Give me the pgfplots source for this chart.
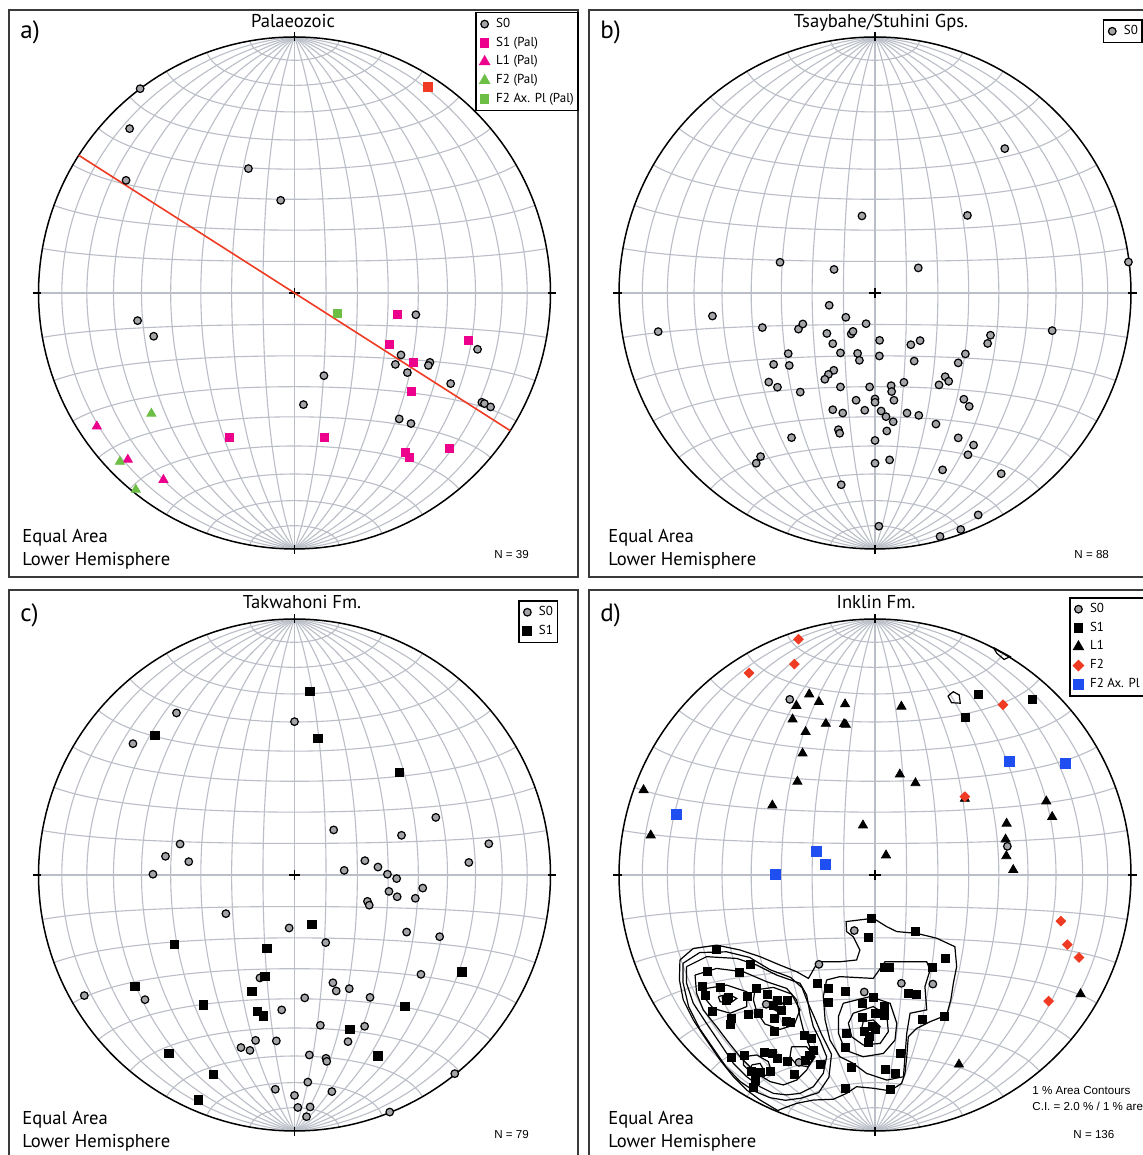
\documentclass[border=0pt]{standalone}
\usepackage{fontspec}
\setmainfont{PT Sans}
\newfontfamily\arialf{Liberation Sans}
\usepackage{pgfplots}
\pgfplotsset{compat=1.18}

\definecolor{gridc}{HTML}{BABEC7}
\definecolor{sgray}{HTML}{A3A5A9}
\definecolor{mag}{HTML}{EC008C}
\definecolor{grn}{HTML}{6CBE45}
\definecolor{red2}{HTML}{EF3B23}
\definecolor{blu}{HTML}{1F4FF0}
\definecolor{framec}{HTML}{3A3A3A}

\newcommand{\ttl}{\fontsize{9.3}{11}\selectfont}
\newcommand{\lab}{\fontsize{12.5}{14}\selectfont}
\newcommand{\nf}{\arialf\fontsize{5.8}{7}\selectfont}

\pgfplotsset{
  stereo/.style={
    width=256pt, height=256pt, scale only axis,
    xmin=-1, xmax=1, ymin=-1, ymax=1,
    axis lines=none, clip=false, anchor=center,
    legend cell align=left,
    legend style={draw=black, line width=0.8pt, fill=white, anchor=north west,
      inner sep=1pt, row sep=0pt, column sep=0.5pt,
      nodes={inner xsep=1.2pt, inner ysep=1.5pt, text height=4.8pt, text depth=1.6pt,
        font=\fontsize{6.5}{7}\selectfont, line width=0.4pt}},
  },
  mk/.style={only marks,
    legend image code/.code={\path[draw=none,fill=none] (0pt,-2pt) rectangle (7.4pt,2pt); \draw[##1] plot coordinates {(3.3pt,0pt)};}},
  s0/.style={mk, mark=*, mark size=1.9pt, mark options={fill=sgray, draw=black, line width=0.6pt}},
  cont/.style={black, line width=0.6pt, forget plot},
}

\newcommand{\stereogrid}{%
  \pgfplotsinvokeforeach{10,20,...,170}{%
    \addplot[gridc, line width=0.55pt, domain=0:180, samples=73, forget plot]
      ({sin(x)*cos(##1)/sqrt(1+sin(x)*sin(##1))},{cos(x)/sqrt(1+sin(x)*sin(##1))});
    \addplot[gridc, line width=0.55pt, domain=0:180, samples=73, forget plot]
      ({sin(##1)*cos(x)/sqrt(1+sin(##1)*sin(x))},{cos(##1)/sqrt(1+sin(##1)*sin(x))});
  }%
  \addplot[black, line width=0.75pt, domain=0:360, samples=181, forget plot] ({cos(x)},{sin(x)});
  \draw[black, line width=0.65pt] (axis cs:-1.022,0) -- (axis cs:-0.99,0);
  \draw[black, line width=0.65pt] (axis cs:1.022,0) -- (axis cs:0.99,0);
  \draw[black, line width=0.65pt] (axis cs:0,1.02) -- (axis cs:0,0.985);
  \draw[black, line width=0.65pt] (axis cs:0,-1.02) -- (axis cs:0,-0.985);
  \draw[black, line width=0.65pt] (axis cs:-0.022,0) -- (axis cs:0.022,0);
  \draw[black, line width=0.65pt] (axis cs:0,-0.018) -- (axis cs:0,0.018);
}

\begin{document}
\begin{tikzpicture}[x=0.5pt,y=0.5pt]
\useasboundingbox (0,0) rectangle (1143,1155);
\clip (0,0) rectangle (1143,1155);
\fill[white] (0,0) rectangle (1143,1155);

% frames
\draw[framec, line width=1pt] (9,1145) rectangle (578,578);
\draw[framec, line width=1pt] (589,1145) rectangle (1160,578);
\draw[framec, line width=1pt] (9,565) rectangle (578,-10);
\draw[framec, line width=1pt] (589,565) rectangle (1160,-10);

% ---------------- panel a ----------------
\begin{axis}[stereo, at={(147.25pt,431pt)}, legend style={at={(0.853,1.049)}}]
\stereogrid
\addplot[red2, line width=0.8pt, forget plot] coordinates {(-0.843,0.538) (0.843,-0.538)};
\addplot[s0] coordinates {(-0.603,0.798) (-0.644,0.642) (-0.658,0.440) (-0.180,0.486) (-0.054,0.362)
 (-0.613,-0.108) (-0.550,-0.169) (0.474,-0.085) (0.715,-0.220) (0.416,-0.242) (0.394,-0.279)
 (0.529,-0.271) (0.523,-0.283) (0.441,-0.311) (0.115,-0.323) (0.610,-0.354) (0.035,-0.436)
 (0.732,-0.427) (0.742,-0.432) (0.766,-0.445) (0.409,-0.492) (0.455,-0.510)};
\addlegendentry{S0}
\addplot[mk, mark=square*, mark size=2pt, mag] coordinates {(0.401,-0.085) (0.372,-0.199)
 (0.464,-0.271) (0.679,-0.184) (0.455,-0.385) (-0.255,-0.566) (0.118,-0.563) (0.433,-0.622)
 (0.447,-0.641) (0.606,-0.609)};
\addlegendentry{S1 (Pal)}
\addplot[mk, mark=triangle*, mark size=2.6pt, mag] coordinates {(-0.772,-0.521) (-0.651,-0.651) (-0.512,-0.730)};
\addlegendentry{L1 (Pal)}
\addplot[mk, mark=triangle*, mark size=2.6pt, grn] coordinates {(-0.559,-0.471) (-0.682,-0.659) (-0.620,-0.768)};
\addlegendentry{F2 (Pal)}
\addplot[mk, mark=square*, mark size=2pt, grn] coordinates {(0.166,-0.078)};
\addlegendentry{F2 Ax. Pl (Pal)}
\addplot[only marks, mark=square*, mark size=2.2pt, red2, forget plot] coordinates {(0.521,0.806)};
\end{axis}

% ---------------- panel b ----------------
\begin{axis}[stereo, at={(437.5pt,431pt)}, legend style={at={(0.945,1.035)}}]
\stereogrid
\addplot[s0] coordinates {(0.507,0.564) (-0.051,0.301) (0.361,0.303) (-0.371,0.120) (-0.160,0.092)
 (0.169,0.098) (0.990,0.121)
 (-0.847,-0.151) (-0.635,-0.090) (-0.440,-0.135) (-0.299,-0.141) (-0.282,-0.121) (-0.179,-0.048)
 (-0.114,-0.095) (-0.035,-0.120) (-0.188,-0.158) (-0.093,-0.160) (-0.086,-0.150) (-0.165,-0.198)
 (-0.135,-0.234) (-0.068,-0.236) (-0.061,-0.263) (0.018,-0.185) (0.017,-0.246) (0.140,-0.202)
 (0.176,-0.186) (0.153,-0.266) (0.451,-0.165) (0.440,-0.197) (0.353,-0.238) (0.325,-0.273)
 (0.692,-0.147) (-0.339,-0.237) (-0.396,-0.279) (-0.335,-0.283) (-0.415,-0.348) (-0.381,-0.368)
 (-0.292,-0.387) (-0.161,-0.302) (-0.182,-0.318) (-0.196,-0.337) (-0.135,-0.367) (-0.021,-0.367)
 (0.063,-0.362) (0.065,-0.385) (0.113,-0.349) (0.250,-0.359) (0.274,-0.327) (0.288,-0.345)
 (-0.074,-0.419) (0.0,-0.414) (0.0,-0.427) (0.074,-0.419) (0.347,-0.415) (0.368,-0.443)
 (-0.165,-0.456) (-0.126,-0.469) (-0.040,-0.458) (0.024,-0.461) (0.043,-0.483) (0.071,-0.503)
 (0.125,-0.469) (0.171,-0.478) (0.238,-0.512) (-0.143,-0.534) (-0.138,-0.548) (0.046,-0.539)
 (0.0,-0.576) (-0.326,-0.565) (0.325,-0.566) (0.385,-0.594) (0.363,-0.632) (-0.447,-0.639)
 (-0.464,-0.665) (0.0,-0.665) (0.057,-0.652) (0.264,-0.691) (0.493,-0.706) (-0.132,-0.749)
 (0.015,-0.911) (0.403,-0.867) (0.335,-0.924) (0.254,-0.951)};
\addlegendentry{S0}
\end{axis}

% ---------------- panel c ----------------
\begin{axis}[stereo, at={(147.25pt,140pt)}, legend style={at={(0.9365,1.037)}}]
\stereogrid
\addplot[s0] coordinates {(-0.461,0.633) (-0.631,0.513) (0.0,0.599) (0.552,0.225) (0.153,0.176)
 (0.418,0.155) (0.759,0.122) (-0.447,0.121) (-0.504,0.073) (-0.413,0.052) (-0.553,0.003)
 (0.275,0.056) (0.326,0.031) (0.194,0.018) (0.363,0.003) (0.399,-0.014) (0.681,0.049)
 (0.369,-0.064) (0.401,-0.085) (0.501,-0.051) (0.472,-0.091) (0.285,-0.103) (0.292,-0.118)
 (-0.268,-0.151) (-0.021,-0.207) (0.122,-0.264) (0.438,-0.223) (0.567,-0.241) (0.494,-0.388)
 (-0.135,-0.402) (0.150,-0.421) (0.163,-0.453) (0.214,-0.444) (0.295,-0.478) (0.040,-0.480)
 (-0.821,-0.471) (-0.584,-0.487) (-0.050,-0.527) (0.101,-0.587) (0.274,-0.591) (0.209,-0.651)
 (-0.152,-0.646) (-0.071,-0.648) (-0.209,-0.674) (-0.174,-0.685) (0.058,-0.703) (0.123,-0.716)
 (0.126,-0.728) (0.052,-0.809) (-0.075,-0.837) (0.0,-0.861) (0.146,-0.846) (0.013,-0.908)
 (0.061,-0.906) (0.047,-0.944) (0.626,-0.776) (0.372,-0.926)};
\addlegendentry{S0}
\addplot[mk, mark=square*, mark size=2.1pt, black] coordinates {(0.060,0.717) (-0.546,0.546)
 (0.091,0.534) (0.410,0.401) (0.068,-0.194) (-0.470,-0.270) (-0.108,-0.286) (-0.116,-0.397)
 (-0.624,-0.435) (-0.167,-0.454) (-0.356,-0.508) (-0.146,-0.533) (-0.121,-0.551) (0.654,-0.379)
 (0.431,-0.514) (0.216,-0.603) (-0.491,-0.697) (0.326,-0.706) (-0.316,-0.779) (-0.376,-0.879)};
\addlegendentry{S1}
\end{axis}

% ---------------- panel d ----------------
\begin{axis}[stereo, at={(437.5pt,140pt)}, legend style={at={(0.879,1.043)}}]
\stereogrid
% contours (1 % area contours)
\addplot[cont] coordinates {(-0.762,-0.332) (-0.710,-0.287) (-0.619,-0.274) (-0.527,-0.293)
 (-0.449,-0.319) (-0.371,-0.352) (-0.306,-0.378) (-0.260,-0.404) (-0.234,-0.358) (-0.208,-0.339)
 (-0.137,-0.339) (-0.072,-0.332) (-0.059,-0.293) (-0.085,-0.241) (-0.111,-0.221) (-0.113,-0.182)
 (-0.007,-0.169) (0.046,-0.202) (0.085,-0.221) (0.163,-0.228) (0.241,-0.247) (0.312,-0.280)
 (0.319,-0.358) (0.306,-0.423) (0.296,-0.488) (0.280,-0.547) (0.215,-0.573) (0.163,-0.599)
 (0.130,-0.632) (0.124,-0.710) (0.117,-0.775) (0.104,-0.814) (0.059,-0.843) (-0.007,-0.833)
 (-0.072,-0.827) (-0.111,-0.853) (-0.163,-0.876) (-0.241,-0.879) (-0.306,-0.892) (-0.358,-0.911)
 (-0.380,-0.920) (-0.449,-0.879) (-0.501,-0.840) (-0.553,-0.788) (-0.605,-0.723) (-0.658,-0.645)
 (-0.710,-0.566) (-0.749,-0.488) (-0.764,-0.410) (-0.762,-0.332)};
\addplot[cont] coordinates {(-0.750,-0.345) (-0.685,-0.303) (-0.580,-0.300) (-0.490,-0.322)
 (-0.410,-0.370) (-0.330,-0.400) (-0.285,-0.440) (-0.262,-0.500) (-0.235,-0.560) (-0.210,-0.620)
 (-0.170,-0.700) (-0.180,-0.790) (-0.220,-0.850) (-0.290,-0.872) (-0.350,-0.880) (-0.410,-0.870)
 (-0.470,-0.845) (-0.525,-0.808) (-0.580,-0.752) (-0.630,-0.680) (-0.685,-0.600) (-0.728,-0.515)
 (-0.750,-0.420) (-0.750,-0.345)};
\addplot[cont] coordinates {(-0.736,-0.358) (-0.658,-0.319) (-0.540,-0.326) (-0.462,-0.352)
 (-0.384,-0.391) (-0.293,-0.423) (-0.267,-0.469) (-0.254,-0.540) (-0.241,-0.592) (-0.215,-0.645)
 (-0.189,-0.710) (-0.202,-0.775) (-0.241,-0.827) (-0.293,-0.853) (-0.345,-0.859) (-0.397,-0.853)
 (-0.449,-0.827) (-0.501,-0.788) (-0.553,-0.736) (-0.605,-0.658) (-0.658,-0.580) (-0.710,-0.501)
 (-0.736,-0.423) (-0.736,-0.358)};
\addplot[cont] coordinates {(-0.703,-0.391) (-0.619,-0.365) (-0.514,-0.378) (-0.423,-0.417)
 (-0.345,-0.443) (-0.306,-0.488) (-0.293,-0.553) (-0.280,-0.605) (-0.260,-0.658) (-0.241,-0.710)
 (-0.267,-0.762) (-0.306,-0.801) (-0.358,-0.820) (-0.410,-0.807) (-0.462,-0.775) (-0.527,-0.710)
 (-0.579,-0.645) (-0.619,-0.592) (-0.671,-0.527) (-0.697,-0.462) (-0.703,-0.391)};
\addplot[cont] coordinates {(-0.658,-0.443) (-0.579,-0.430) (-0.501,-0.456) (-0.501,-0.514)
 (-0.566,-0.540) (-0.632,-0.521) (-0.664,-0.482) (-0.658,-0.443)};
\addplot[cont] coordinates {(-0.612,-0.475) (-0.573,-0.465) (-0.540,-0.482) (-0.566,-0.501) (-0.605,-0.495) (-0.612,-0.475)};
\addplot[cont] coordinates {(-0.469,-0.449) (-0.397,-0.439) (-0.326,-0.465) (-0.293,-0.527)
 (-0.316,-0.586) (-0.371,-0.603) (-0.430,-0.582) (-0.462,-0.534) (-0.475,-0.488) (-0.469,-0.449)};
\addplot[cont] coordinates {(-0.404,-0.495) (-0.371,-0.488) (-0.352,-0.514) (-0.378,-0.534) (-0.404,-0.521) (-0.404,-0.495)};
\addplot[cont] coordinates {(-0.514,-0.710) (-0.462,-0.703) (-0.417,-0.729) (-0.404,-0.768)
 (-0.436,-0.788) (-0.482,-0.775) (-0.514,-0.742) (-0.514,-0.710)};
\addplot[cont] coordinates {(-0.482,-0.742) (-0.449,-0.736) (-0.434,-0.762) (-0.460,-0.775) (-0.486,-0.764) (-0.482,-0.742)};
\addplot[cont] coordinates {(-0.326,-0.671) (-0.267,-0.671) (-0.234,-0.710) (-0.260,-0.749)
 (-0.306,-0.742) (-0.332,-0.710) (-0.326,-0.671)};
\addplot[cont] coordinates {(-0.189,-0.410) (-0.137,-0.397) (-0.007,-0.404) (0.039,-0.339)
 (0.202,-0.339) (0.215,-0.371) (0.195,-0.436) (0.202,-0.527) (0.137,-0.540) (0.124,-0.618)
 (0.117,-0.710) (0.111,-0.788) (0.046,-0.801) (-0.033,-0.775) (-0.085,-0.736) (-0.137,-0.710)
 (-0.176,-0.645) (-0.195,-0.566) (-0.202,-0.475) (-0.189,-0.410)};
\addplot[cont] coordinates {(-0.124,-0.501) (-0.020,-0.475) (0.059,-0.501) (0.085,-0.579)
 (0.078,-0.645) (0.033,-0.697) (-0.046,-0.710) (-0.117,-0.684) (-0.143,-0.618) (-0.143,-0.553)
 (-0.124,-0.501)};
\addplot[cont] coordinates {(-0.085,-0.540) (-0.007,-0.514) (0.046,-0.547) (0.052,-0.612)
 (0.020,-0.658) (-0.046,-0.664) (-0.091,-0.632) (-0.104,-0.579) (-0.085,-0.540)};
\addplot[cont] coordinates {(-0.046,-0.573) (-0.007,-0.566) (0.020,-0.592) (0.007,-0.618) (-0.033,-0.618) (-0.052,-0.599) (-0.046,-0.573)};
\addplot[cont] coordinates {(0.285,0.699) (0.306,0.716) (0.329,0.703) (0.333,0.671) (0.299,0.673) (0.285,0.699)};
\addplot[cont] coordinates {(0.462,0.889) (0.528,0.853) (0.504,0.842) (0.476,0.866) (0.462,0.889)};
% points
\addplot[s0] coordinates {(-0.333,0.686) (0.517,0.112) (-0.081,-0.217) (-0.219,-0.349) (0.103,-0.423)
 (0.226,-0.426) (-0.042,-0.457) (-0.425,-0.505) (-0.297,-0.732)};
\addlegendentry{S0}
\addplot[mk, mark=square*, mark size=2pt, black] coordinates {(0.404,0.704) (0.615,0.685) (0.353,0.616)
 (-0.013,-0.169) (-0.026,-0.243) (0.156,-0.219) (0.274,-0.324) (-0.621,-0.289) (-0.485,-0.350)
 (-0.656,-0.375) (-0.529,-0.381) (-0.674,-0.434) (-0.604,-0.439) (-0.663,-0.470) (-0.571,-0.480)
 (-0.579,-0.491) (-0.636,-0.533) (-0.560,-0.559) (-0.563,-0.582) (-0.463,-0.443) (-0.497,-0.475)
 (-0.421,-0.466) (-0.382,-0.488) (-0.343,-0.488) (-0.396,-0.508) (-0.367,-0.527) (-0.494,-0.544)
 (-0.454,-0.540) (-0.393,-0.561) (-0.346,-0.573) (-0.332,-0.577) (-0.394,-0.611) (-0.226,-0.423)
 (-0.181,-0.444) (-0.114,-0.456) (-0.181,-0.496) (-0.051,-0.501) (-0.007,-0.478) (0.035,-0.362)
 (0.056,-0.362) (0.224,-0.361) (0.132,-0.462) (0.160,-0.467) (0.038,-0.514) (0.035,-0.549)
 (0.0,-0.540) (-0.049,-0.557) (-0.011,-0.590) (0.0,-0.603) (-0.040,-0.609) (-0.021,-0.632)
 (-0.024,-0.654) (0.185,-0.566) (0.271,-0.553) (-0.110,-0.618) (-0.117,-0.673) (-0.276,-0.626)
 (-0.249,-0.638) (-0.239,-0.684) (-0.257,-0.706) (-0.271,-0.723) (-0.213,-0.738) (-0.344,-0.730)
 (-0.511,-0.703) (-0.560,-0.714) (-0.433,-0.694) (-0.401,-0.695) (-0.382,-0.716) (-0.482,-0.768)
 (-0.449,-0.770) (-0.408,-0.767) (-0.469,-0.801) (-0.476,-0.828) (-0.314,-0.779) (-0.093,-0.753)
 (-0.117,-0.833) (0.099,-0.698) (0.042,-0.758) (0.081,-0.775) (0.060,-0.839)};
\addlegendentry{S1}
\addplot[mk, mark=triangle*, mark size=2.6pt, black] coordinates {(-0.257,0.706) (-0.307,0.661)
 (-0.219,0.676) (-0.117,0.667) (-0.322,0.608) (-0.192,0.591) (-0.121,0.590) (-0.114,0.587)
 (-0.271,0.559) (-0.283,0.475) (-0.303,0.365) (0.103,0.658) (0.097,0.393) (0.158,0.359)
 (0.351,0.298) (-0.904,0.332) (-0.401,0.272) (-0.876,0.155) (-0.047,0.194) (0.043,0.077)
 (0.669,0.288) (0.692,0.227) (0.514,0.201) (0.510,0.139) (0.513,0.074) (0.540,0.020)
 (0.803,-0.465) (0.328,-0.740)};
\addlegendentry{L1}
\addplot[mk, mark=square*, mark size=1.7pt, mark options={rotate=45}, red2] coordinates {(-0.299,0.921) (-0.315,0.824)
 (-0.492,0.789) (0.500,0.665) (0.351,0.306) (0.726,-0.180) (0.751,-0.272) (0.797,-0.322) (0.678,-0.493)};
\addlegendentry{F2}
\addplot[mk, mark=square*, mark size=2.5pt, blu] coordinates {(0.524,0.443) (0.744,0.434)
 (-0.774,0.238) (-0.228,0.094) (-0.192,0.043) (-0.388,0.003)};
\addlegendentry{F2 Ax. Pl}
\end{axis}

% ---------------- texts ----------------
\node[anchor=base west, inner sep=0, font=\lab] at (20,1116) {a)};
\node[anchor=base west, inner sep=0, font=\lab] at (600,1116) {b)};
\node[anchor=base west, inner sep=0, font=\lab] at (20,533) {c)};
\node[anchor=base west, inner sep=0, font=\lab] at (600,533) {d)};

\node[anchor=base, inner sep=0, font=\ttl] at (293,1127) {Palaeozoic};
\node[anchor=base, inner sep=0, font=\ttl] at (881,1127) {Tsaybahe/Stuhini Gps.};
\node[anchor=base, inner sep=0, font=\ttl] at (302,546) {Takwahoni Fm.};
\node[anchor=base, inner sep=0, font=\ttl] at (876,546) {Inklin Fm.};

\node[anchor=base west, inner sep=0, font=\ttl] at (22,612) {Equal Area};
\node[anchor=base west, inner sep=0, font=\ttl] at (22,589) {Lower Hemisphere};
\node[anchor=base west, inner sep=0, font=\ttl] at (608,612) {Equal Area};
\node[anchor=base west, inner sep=0, font=\ttl] at (608,589) {Lower Hemisphere};
\node[anchor=base west, inner sep=0, font=\ttl] at (22,30) {Equal Area};
\node[anchor=base west, inner sep=0, font=\ttl] at (22,7) {Lower Hemisphere};
\node[anchor=base west, inner sep=0, font=\ttl] at (608,30) {Equal Area};
\node[anchor=base west, inner sep=0, font=\ttl] at (608,7) {Lower Hemisphere};

\node[anchor=base west, inner sep=0, font=\nf] at (494,596) {N = 39};
\node[anchor=base west, inner sep=0, font=\nf] at (1074,596) {N = 88};
\node[anchor=base west, inner sep=0, font=\nf] at (494,17) {N = 79};
\node[anchor=base west, inner sep=0, font=\nf] at (1073,17) {N = 136};
\node[anchor=base west, inner sep=0, font=\nf] at (1032,60) {1 \% Area Contours};
\node[anchor=base west, inner sep=0, font=\nf] at (1032,44) {C.I. = 2.0 \% / 1 \% area};
\end{tikzpicture}
\end{document}
